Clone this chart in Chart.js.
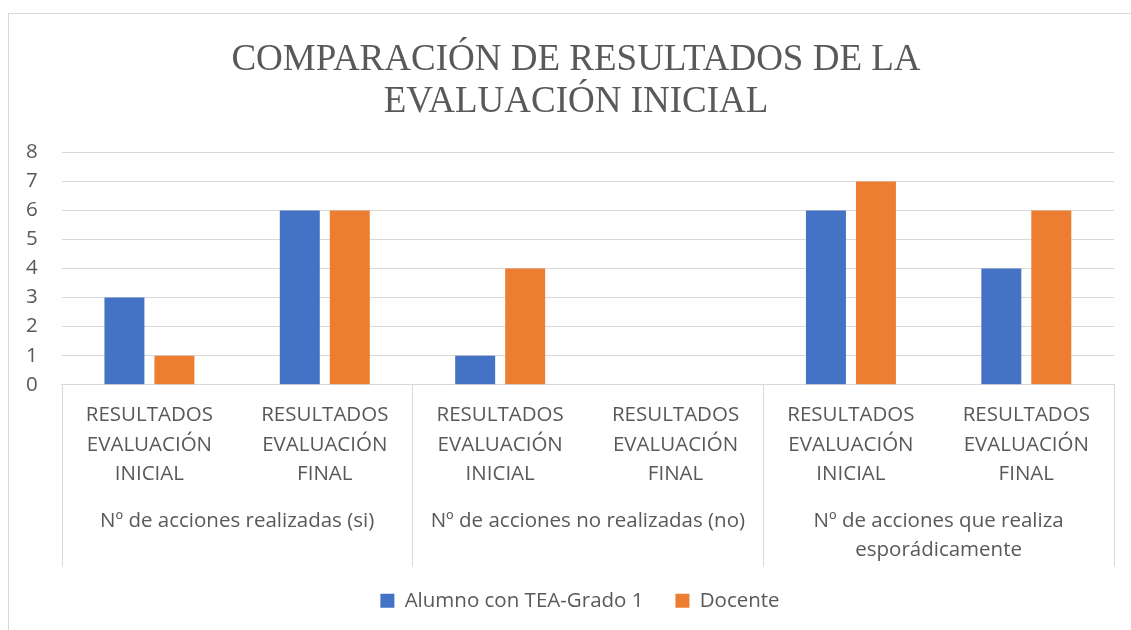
<!DOCTYPE html>
<html>
<head>
<meta charset="utf-8">
<script src="https://cdn.jsdelivr.net/npm/chart.js@4"></script>
<style>
  html,body{margin:0;padding:0;background:#fff;}
  #wrap{position:relative;width:1131px;height:630px;overflow:hidden;}
  #frame{position:absolute;left:8px;top:13px;width:1200px;height:700px;border:1px solid #d9d9d9;box-sizing:border-box;}
  #chart{position:absolute;left:0;top:0;}
</style>
</head>
<body>
<div id="wrap">
  <div id="frame"></div>
  <canvas id="chart" width="1131" height="630"></canvas>
</div>
<script>
// data
const categories = [
  ['RESULTADOS','EVALUACIÓN','INICIAL'],
  ['RESULTADOS','EVALUACIÓN','FINAL'],
  ['RESULTADOS','EVALUACIÓN','INICIAL'],
  ['RESULTADOS','EVALUACIÓN','FINAL'],
  ['RESULTADOS','EVALUACIÓN','INICIAL'],
  ['RESULTADOS','EVALUACIÓN','FINAL']
];
const groups = [
  'Nº de acciones realizadas (si)',
  'Nº de acciones no realizadas (no)',
  ['Nº de acciones que realiza','esporádicamente']
];
const alumno = [3, 6, 1, 0, 6, 4];
const docente = [1, 6, 4, 0, 7, 6];
const yTicks = [0, 1, 2, 3, 4, 5, 6, 7, 8];

const textColor = '#595959';
const gridColor = '#d9d9d9';
const sans = '"Open Sans", Lato, sans-serif';
const fs = 20.5;

// separator lines between the category groups, from the axis down to below the group labels
const groupLines = {
  id: 'groupLines',
  afterLayout(chart){
    // title and legend sit right of the layout centre in the original
    chart.titleBlock.left += 18; chart.titleBlock.right += 18;
    const lg = chart.legend;
    lg.left += 22; lg.right += 22;
    lg.top -= 8; lg.bottom -= 8;
  },
  afterDraw(chart){
    const x = chart.scales.x, x2 = chart.scales.x2;
    const c = chart.ctx;
    const per = categories.length / groups.length;
    c.save();
    c.strokeStyle = gridColor;
    c.lineWidth = 1;
    for(let g=0; g<=groups.length; g++){
      const i = g*per;
      let px;
      if(i === 0) px = x.left;
      else if(i === categories.length) px = x.right;
      else px = (x.getPixelForValue(i-1) + x.getPixelForValue(i)) / 2;
      px = Math.round(px) + 0.5;
      c.beginPath();
      c.moveTo(px, x.top);
      c.lineTo(px, x2.bottom);
      c.stroke();
    }
    c.restore();
  }
};

new Chart(document.getElementById('chart'), {
  type: 'bar',
  data: {
    labels: categories,
    datasets: [
      {label: 'Alumno con TEA-Grado 1', data: alumno, backgroundColor: '#4472c4', xAxisID: 'x'},
      {label: 'Docente', data: docente, backgroundColor: '#ed7d31', xAxisID: 'x'}
    ]
  },
  options: {
    responsive: false,
    animation: false,
    categoryPercentage: 0.57,
    barPercentage: 0.8,
    layout: {padding: {left: 2, right: 17, top: 0, bottom: 1}},
    plugins: {
      title: {
        display: true,
        text: ['COMPARACIÓN DE RESULTADOS DE LA', 'EVALUACIÓN INICIAL'],
        color: textColor,
        font: {family: '"Liberation Serif", "Times New Roman", serif', size: 37, weight: 'normal', lineHeight: 1.14},
        padding: {top: 39, bottom: 29}
      },
      legend: {
        position: 'bottom',
        labels: {
          color: textColor,
          font: {family: sans, size: fs},
          boxWidth: 14,
          boxHeight: 14,
          padding: 32
        }
      },
      tooltip: {enabled: false}
    },
    scales: {
      x: {
        type: 'category',
        position: 'bottom',
        grid: {display: false, drawTicks: false},
        border: {display: true, color: gridColor},
        ticks: {
          color: textColor,
          font: {family: sans, size: fs, lineHeight: 1.44},
          padding: 16,
          maxRotation: 0,
          autoSkip: false
        }
      },
      x2: {
        type: 'category',
        position: 'bottom',
        labels: groups,
        offset: true,
        grid: {display: false, drawTicks: false},
        border: {display: false},
        ticks: {
          color: textColor,
          font: {family: sans, size: fs, lineHeight: 1.42},
          padding: 1.5,
          maxRotation: 0,
          autoSkip: false
        }
      },
      y: {
        min: 0,
        max: 8,
        afterBuildTicks(scale){ scale.ticks = yTicks.map(v => ({value: v})); },
        grid: {color: gridColor, drawTicks: false},
        border: {display: false},
        ticks: {
          color: textColor,
          font: {family: sans, size: fs},
          padding: 24
        }
      }
    }
  },
  plugins: [groupLines]
});
</script>
</body>
</html>
